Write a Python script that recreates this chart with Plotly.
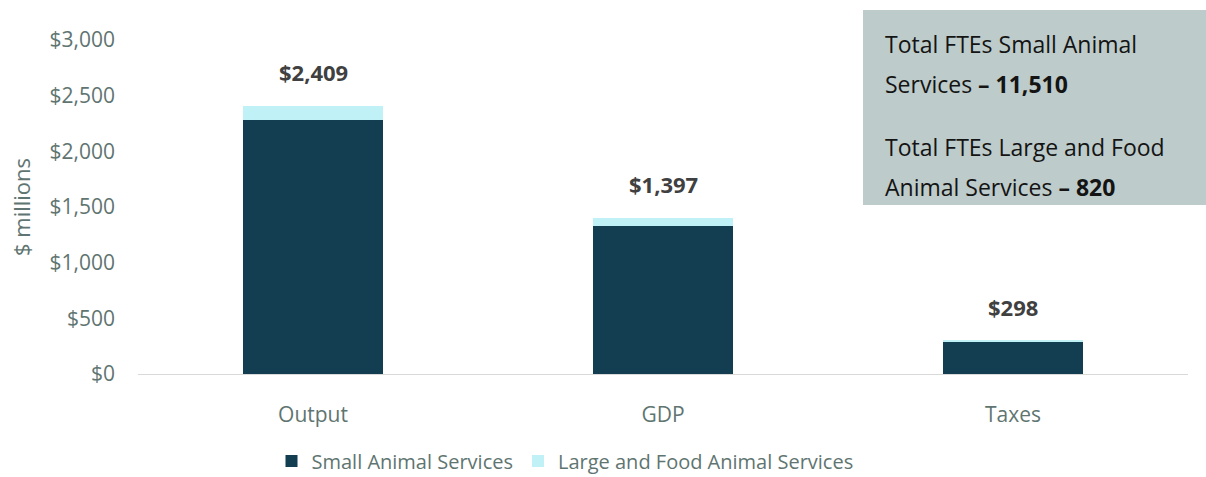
import plotly.graph_objects as go

categories = ["Output", "GDP", "Taxes"]
small_animal = [2280, 1325, 293]
large_food = [129, 72, 5]
totals = [2409, 1397, 298]
total_labels = ["$2,409", "$1,397", "$298"]
y_ticks = [0, 500, 1000, 1500, 2000, 2500, 3000]
y_tick_labels = ["$0", "$500", "$1,000", "$1,500", "$2,000", "$2,500", "$3,000"]
fte_text = [
    "Total FTEs Small Animal",
    "Services <b>– 11,510</b>",
    "Total FTEs Large and Food",
    "Animal Services <b>– 820</b>",
]

FONT = "Open Sans"
GREY = "#5f7571"
DARK = "#133d50"
LIGHT = "#bff1f6"

PLOT_TOP, PLOT_BOTTOM = 40, 374
PLOT_H = PLOT_BOTTOM - PLOT_TOP
PLOT_L, PLOT_R = 138, 1188
PLOT_W = PLOT_R - PLOT_L


def px_x(px):
    return (px - PLOT_L) / PLOT_W


def px_y(py):
    return (PLOT_BOTTOM - py) / PLOT_H


fig = go.Figure()
fig.add_trace(go.Bar(x=categories, y=small_animal, name="Small Animal Services",
                     marker=dict(color=DARK, line=dict(width=0))))
fig.add_trace(go.Bar(x=categories, y=large_food, name="Large and Food Animal Services",
                     marker=dict(color=LIGHT, line=dict(width=0))))

# total labels above each stack
for c, t, lab in zip(categories, totals, total_labels):
    fig.add_annotation(x=c, y=t, text=f"<b>{lab}</b>", showarrow=False,
                       yshift=34, font=dict(family=FONT, size=22, color="#404040"))

# FTE summary box
fig.add_shape(type="rect", xref="paper", yref="paper",
              x0=px_x(863), x1=px_x(1206), y0=px_y(205), y1=px_y(10),
              fillcolor="#bdcbca", line=dict(width=0), layer="below")
for txt, py in zip(fte_text, [44, 84, 147, 187]):
    fig.add_annotation(xref="paper", yref="paper", x=px_x(883), y=px_y(py), text=txt,
                       showarrow=False, xanchor="left", yanchor="middle", align="left",
                       font=dict(family=FONT, size=23, color="#141414"))

fig.update_layout(
    barmode="stack",
    bargap=0.6,
    width=1206, height=477,
    margin=dict(l=PLOT_L, r=1206 - PLOT_R, t=PLOT_TOP, b=477 - PLOT_BOTTOM, autoexpand=False),
    plot_bgcolor="white", paper_bgcolor="white",
    font=dict(family=FONT, size=21, color=GREY),
    legend=dict(orientation="h", x=px_x(565), xanchor="center", y=px_y(461), yanchor="middle",
                font=dict(family=FONT, size=20, color=GREY), traceorder="normal",
                itemwidth=30),
    xaxis=dict(showline=True, linecolor="#d9d9d9", linewidth=1, ticks="",
               ticklabelstandoff=22,
               tickfont=dict(family=FONT, size=21, color=GREY)),
    yaxis=dict(range=[0, 3000], tickvals=y_ticks, ticktext=y_tick_labels,
               showgrid=False, zeroline=False, ticks="", ticklabelstandoff=22,
               title=dict(text="$ millions", standoff=12,
                          font=dict(family=FONT, size=22, color=GREY)),
               tickfont=dict(family=FONT, size=21, color=GREY)),
)

fig.write_html("out.html")
